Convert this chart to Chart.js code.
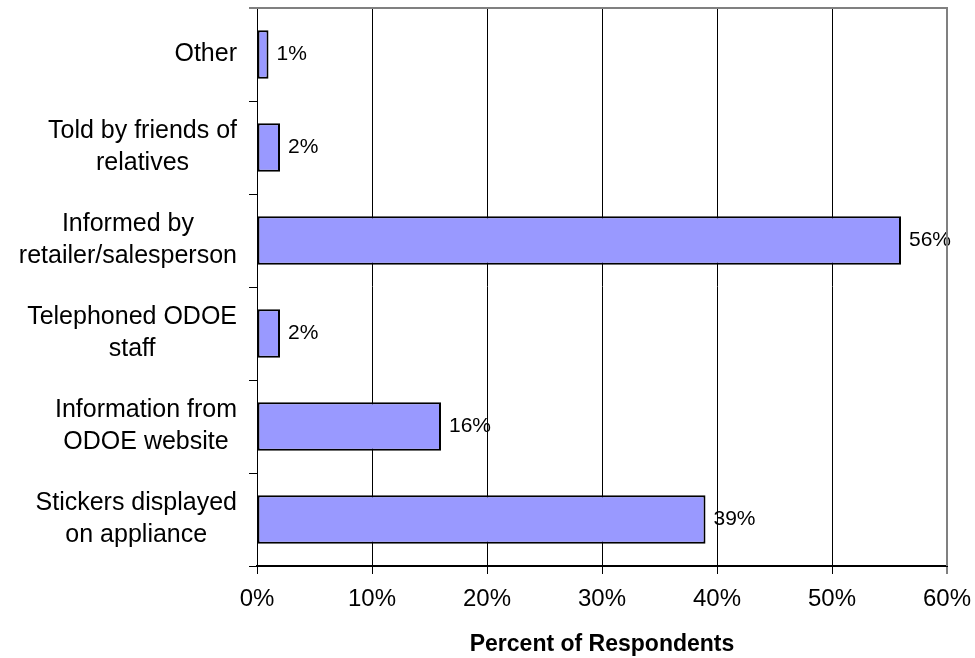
<!DOCTYPE html>
<html>
<head>
<meta charset="utf-8">
<script src="https://cdn.jsdelivr.net/npm/chart.js@4/dist/chart.umd.min.js"></script>
<style>
  html, body { margin: 0; padding: 0; background: #fff; }
  #wrap { width: 975px; height: 658px; }
</style>
</head>
<body>
<div id="wrap"><canvas id="c" width="975" height="658"></canvas></div>
<script>
// How respondents learned about the program
const categories = [
  ['Other'],
  ['Told by friends of', 'relatives'],
  ['Informed by', 'retailer/salesperson'],
  ['Telephoned ODOE', 'staff'],
  ['Information from', 'ODOE website'],
  ['Stickers displayed', 'on appliance']
];
const percentRespondents = [1, 2, 56, 2, 16, 39];
const xTickValues = [0, 10, 20, 30, 40, 50, 60];
const xAxisTitle = 'Percent of Respondents';

const FONT = '"Liberation Sans", Arial, sans-serif';

// Multi-line category labels, each block centred on itself and right-aligned to the axis
const categoryLabels = {
  id: 'categoryLabels',
  afterDraw(chart) {
    const ctx = chart.ctx;
    const yScale = chart.scales.y;
    const right = chart.chartArea.left - 20;
    const lineH = 32;
    ctx.save();
    ctx.font = '25px ' + FONT;
    ctx.fillStyle = '#000';
    ctx.textAlign = 'center';
    ctx.textBaseline = 'middle';
    categories.forEach((lines, i) => {
      const y = yScale.getPixelForValue(i);
      const w = Math.max(...lines.map(l => ctx.measureText(l).width));
      const cx = right - w / 2;
      const y0 = y - (lines.length - 1) * lineH / 2;
      lines.forEach((l, k) => ctx.fillText(l, cx, y0 + k * lineH));
    });
    ctx.restore();
  }
};

// Value labels to the right of each bar
const valueLabels = {
  id: 'valueLabels',
  afterDatasetsDraw(chart) {
    const ctx = chart.ctx;
    const meta = chart.getDatasetMeta(0);
    ctx.save();
    ctx.font = '21px ' + FONT;
    ctx.fillStyle = '#000';
    ctx.textAlign = 'left';
    ctx.textBaseline = 'middle';
    meta.data.forEach((bar, i) => {
      const v = chart.data.datasets[0].data[i];
      ctx.fillText(Math.round(v) + '%', bar.x + 8, bar.y);
    });
    ctx.restore();
  }
};

// Grey frame along the top and right of the plot
const plotFrame = {
  id: 'plotFrame',
  afterDraw(chart) {
    const { ctx, chartArea: a } = chart;
    ctx.save();
    ctx.strokeStyle = '#808080';
    ctx.lineWidth = 2;
    ctx.beginPath();
    ctx.moveTo(a.left - 8, a.top);
    ctx.lineTo(a.right, a.top);
    ctx.lineTo(a.right, a.bottom);
    ctx.stroke();
    ctx.restore();
  }
};

new Chart(document.getElementById('c'), {
  type: 'bar',
  data: {
    labels: categories,
    datasets: [{
      data: percentRespondents,
      backgroundColor: '#9999FF',
      borderColor: '#000000',
      borderWidth: 2,
      borderSkipped: false,
      categoryPercentage: 1.0,
      barPercentage: 0.52
    }]
  },
  options: {
    indexAxis: 'y',
    responsive: false,
    animation: false,
    devicePixelRatio: 1,
    layout: { padding: { top: 8, right: 28, left: 0, bottom: 0 } },
    plugins: {
      legend: { display: false },
      tooltip: { enabled: false }
    },
    scales: {
      x: {
        type: 'linear',
        min: 0,
        max: 60,
        afterBuildTicks(scale) {
          scale.ticks = xTickValues.map(v => ({ value: v }));
        },
        afterFit(scale) {
          scale.height = 92;
          scale.paddingLeft = 0;
          scale.paddingRight = 0;
        },
        ticks: {
          callback: v => v + '%',
          color: '#000',
          font: { family: FONT, size: 24 },
          padding: 11,
          maxRotation: 0
        },
        grid: {
          color: c => (c.tick && c.tick.value === 60) ? '#808080' : '#000',
          lineWidth: c => (c.tick && c.tick.value === 60) ? 2 : 1,
          tickColor: '#000',
          tickLength: 8,
          tickWidth: 1
        },
        border: { display: true, color: '#000', width: 2 },
        title: {
          display: true,
          text: xAxisTitle,
          color: '#000',
          font: { family: FONT, size: 23, weight: 'bold' },
          padding: { top: 0, bottom: 0 }
        }
      },
      y: {
        type: 'category',
        offset: true,
        afterFit(scale) { scale.width = 257; },
        ticks: { display: false },
        grid: {
          offset: true,
          drawOnChartArea: false,
          color: '#000',
          tickLength: 8,
          lineWidth: 1
        },
        border: { display: true, color: '#000', width: 1 }
      }
    }
  },
  plugins: [categoryLabels, valueLabels, plotFrame]
});
</script>
</body>
</html>
